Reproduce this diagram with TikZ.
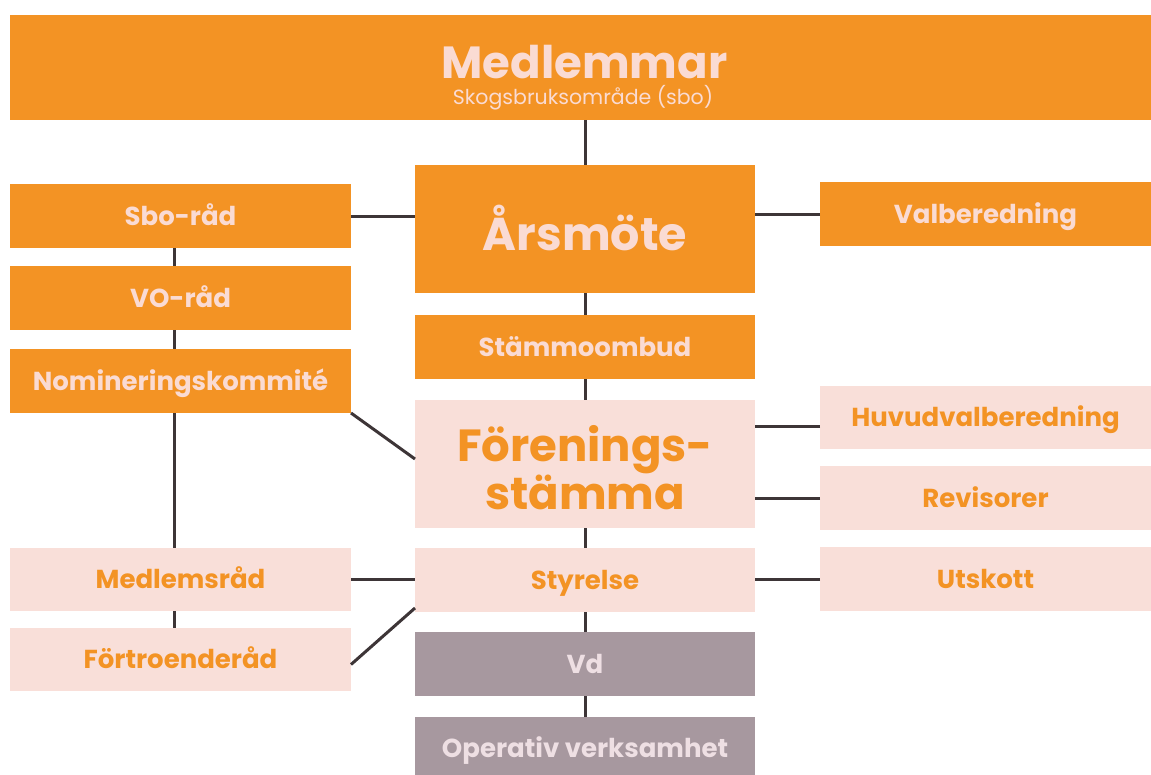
\documentclass[tikz,border=0pt]{standalone}
\usepackage{fontspec}
\setmainfont{Poppins}
\definecolor{orng}{HTML}{F39324}
\definecolor{pnk}{HTML}{F9DFD9}
\definecolor{pnktxt}{HTML}{FADBD3}
\definecolor{gry}{HTML}{A7989F}
\definecolor{grytxt}{HTML}{EEDFE3}
\definecolor{lne}{HTML}{3D3537}
\tikzset{
  basebox/.style={inner sep=0pt, outer sep=0pt, align=center, text height=18.2pt, text depth=0pt, font=\bfseries\fontsize{26}{30}\selectfont},
  obox/.style={basebox, fill=orng, text=pnktxt},
  pbox/.style={basebox, fill=pnk, text=orng},
  gbox/.style={basebox, fill=gry, text=grytxt},
  conn/.style={draw=lne, line width=3pt}
}
\begin{document}
\begin{tikzpicture}[x=1pt,y=-1pt]
\useasboundingbox (0,0) rectangle (1151,774);
% top
\node[obox, minimum width=1141pt, minimum height=105pt] (med) at (580.5,67.5) {};
\node[text=pnktxt, font=\bfseries\fontsize{45}{48}\selectfont, inner sep=0pt, text height=31.5pt, text depth=0pt] (medt) at (584.5,63) {Medlemmar};
\node[text=pnktxt, font=\fontsize{20.5}{24}\selectfont, inner sep=0pt, text height=14.3pt, text depth=0pt] (meds) at (583,97.5) {Skogsbruksområde (sbo)};
% centre column
\node[obox, minimum width=340pt, minimum height=128pt, font=\bfseries\fontsize{46}{50}\selectfont, text height=42pt] (ars) at (585,229) {Årsmöte};
\node[obox, minimum width=340pt, minimum height=64pt] (stom) at (585,347) {Stämmoombud};
\node[pbox, minimum width=340pt, minimum height=128pt, font=\bfseries\fontsize{45}{43}\selectfont, text height=90pt] (for) at (585,464) {Förenings-\\stämma};
\node[pbox, minimum width=340pt, minimum height=64pt] (sty) at (585,580) {Styrelse};
\node[gbox, minimum width=340pt, minimum height=64pt] (vd) at (585,664) {Vd};
\node[gbox, minimum width=340pt, minimum height=62pt] (op) at (585,748) {Operativ verksamhet};
% left column
\node[obox, minimum width=341pt, minimum height=64pt] (sbo) at (180.5,216) {Sbo-råd};
\node[obox, minimum width=341pt, minimum height=64pt] (vor) at (180.5,298) {VO-råd};
\node[obox, minimum width=341pt, minimum height=64pt] (nom) at (180.5,381) {Nomineringskommité};
\node[pbox, minimum width=341pt, minimum height=63pt] (mr) at (180.5,579.5) {Medlemsråd};
\node[pbox, minimum width=341pt, minimum height=63pt] (ftr) at (180.5,659.5) {Förtroenderåd};
% right column
\node[obox, minimum width=331pt, minimum height=64pt] (val) at (985.5,214) {Valberedning};
\node[pbox, minimum width=331pt, minimum height=63pt] (hvb) at (985.5,417.5) {Huvudvalberedning};
\node[pbox, minimum width=331pt, minimum height=64pt] (rev) at (985.5,498) {Revisorer};
\node[pbox, minimum width=331pt, minimum height=64pt] (uts) at (985.5,579) {Utskott};
% connectors
\draw[conn] (ars.north |- med.south) -- (ars.north);
\draw[conn] (sbo.east) -- (sbo.east -| ars.west);
\draw[conn] (val.west) -- (val.west -| ars.east);
\draw[conn] ([xshift=-6.5pt]sbo.south) -- ([xshift=-6.5pt]vor.north);
\draw[conn] ([xshift=-6.5pt]vor.south) -- ([xshift=-6.5pt]nom.north);
\draw[conn] ([xshift=-6.5pt]nom.south) -- ([xshift=-6.5pt]mr.north);
\draw[conn] ([xshift=-6.5pt]mr.south) -- ([xshift=-6.5pt]ftr.north);
\draw[conn] (nom.south east) -- ([yshift=5pt]for.west);
\draw[conn] (ars.south) -- (stom.north);
\draw[conn] (stom.south) -- (for.north);
\draw[conn] ([yshift=-8.5pt]hvb.west) -- ([yshift=-8.5pt]hvb.west -| for.east);
\draw[conn] (rev.west) -- (rev.west -| for.east);
\draw[conn] (for.south) -- (sty.north);
\draw[conn] (mr.east) -- (mr.east -| sty.west);
\draw[conn] (uts.west) -- (uts.west -| sty.east);
\draw[conn] ([yshift=4pt]sty.south west) -- ([yshift=-5pt]ftr.east);
\draw[conn] (sty.south) -- (vd.north);
\draw[conn] (vd.south) -- (op.north);
\end{tikzpicture}
\end{document}
